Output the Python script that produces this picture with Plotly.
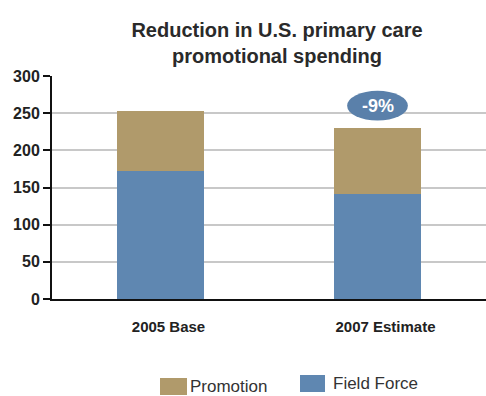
import plotly.graph_objects as go

categories = ["2005 Base", "2007 Estimate"]
field_force = [172, 141]
promotion = [81, 89]
y_ticks = [0, 50, 100, 150, 200, 250, 300]
change_label = "-9%"

blue = "#5f87b1"
tan = "#b09a6b"
font_family = "Liberation Sans, Arial, sans-serif"

# plot area in pixels: x 52..486, y 76..299
L, R, T, B = 52, 486, 76, 299


def px_x(p):
    return (p - L) / (R - L)


def px_y(p):
    return (B - p) / (B - T)


fig = go.Figure()
fig.add_trace(go.Bar(x=categories, y=field_force, name="Field Force",
                     marker=dict(color=blue, line=dict(width=0)), width=0.4))
fig.add_trace(go.Bar(x=categories, y=promotion, name="Promotion",
                     marker=dict(color=tan, line=dict(width=0)), width=0.4))

# change badge above the second bar
total_2007 = field_force[1] + promotion[1]
cy = total_2007 + 30
fig.add_shape(type="circle", xref="x", yref="y",
              x0=0.86, x1=1.14, y0=cy - 20, y1=cy + 20,
              fillcolor="#5a80aa", line=dict(width=0), layer="above")
fig.add_annotation(x=1, y=cy, xref="x", yref="y", text="<b>" + change_label + "</b>",
                   showarrow=False, font=dict(family=font_family, size=18, color="white"))

# legend drawn with larger swatches
legend_items = [("Promotion", tan, 160, 187, 378, 395, 188),
                ("Field Force", blue, 300, 325, 375, 392, 331)]
for name, color, x0, x1, y0, y1, tx in legend_items:
    fig.add_shape(type="rect", xref="paper", yref="paper",
                  x0=px_x(x0), x1=px_x(x1), y0=px_y(y1), y1=px_y(y0),
                  fillcolor=color, line=dict(width=0))
    fig.add_annotation(xref="paper", yref="paper", x=px_x(tx), y=px_y((y0 + y1) / 2),
                       xanchor="left", yanchor="middle", text=name, showarrow=False,
                       font=dict(family=font_family, size=17, color="#333"))

fig.update_layout(
    width=486, height=396,
    margin=dict(l=L, r=486 - R, t=T, b=396 - B),
    barmode="stack",
    paper_bgcolor="white", plot_bgcolor="white",
    font=dict(family=font_family, color="#222"),
    title=dict(text="<b>Reduction in U.S. primary care<br>promotional spending</b>",
               x=277 / 486, xanchor="center", y=1 - 37 / 396, yanchor="top",
               font=dict(family=font_family, size=20, color="#2a2a2a")),
    showlegend=False,
)
fig.update_xaxes(type="category", range=[-0.5, 1.5], showgrid=False,
                 showline=True, linecolor="#111", linewidth=2,
                 ticks="", tickfont=dict(family=font_family, size=15, color="#222", weight="bold"),
                 ticklabelstandoff=13, ticklabelshift=8)
fig.update_yaxes(range=[0, 300], tickvals=y_ticks, showgrid=True, gridcolor="#c8c8c8", gridwidth=2,
                 showline=True, linecolor="#111", linewidth=2,
                 ticks="outside", ticklen=7, tickwidth=2, tickcolor="#111",
                 tickfont=dict(family=font_family, size=16, color="#222", weight="bold"),
                 zeroline=False)

fig.write_html("out.html")
